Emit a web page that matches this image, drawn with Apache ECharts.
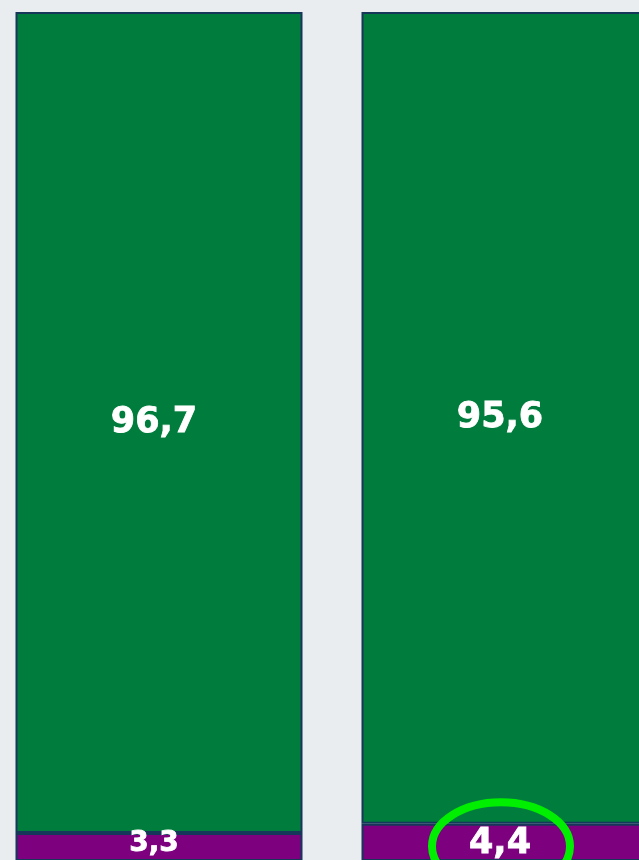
<!DOCTYPE html>
<html>
<head>
<meta charset="utf-8">
<script src="https://cdn.jsdelivr.net/npm/echarts@6/dist/echarts.min.js"></script>
<style>
  html, body { margin: 0; padding: 0; background: #e9edef; }
  #chart { width: 639px; height: 860px; }
</style>
</head>
<body>
<div id="chart"></div>
<script>
// categories + stacked shares (percent)
const categories = ['A', 'B'];
const purpleValues = [3.3, 4.4];
const greenValues = [96.7, 95.6];
const purpleLabelSizes = [28, 35];

const chart = echarts.init(document.getElementById('chart'));

const fmt = (p) => String(p.value).replace('.', ',');

const labelBase = {
  show: true,
  position: 'inside',
  formatter: fmt,
  color: '#fff',
  fontWeight: 'bold',
  fontFamily: 'DejaVu Sans',
  textBorderColor: '#fff',
  textBorderWidth: 0.8,
};

const option = {
  backgroundColor: '#e9edef',
  animation: false,
  grid: { left: -14, top: 12, width: 692, bottom: -1, outerBoundsMode: 'none', containLabel: false },
  xAxis: {
    type: 'category',
    data: categories,
    show: false,
  },
  yAxis: {
    type: 'value',
    min: 0,
    max: 100,
    show: false,
  },
  series: [
    {
      name: 'purple',
      type: 'bar',
      stack: 'total',
      barWidth: 287,
      data: purpleValues.map((v, i) => ({
        value: v,
        label: { fontSize: purpleLabelSizes[i], offset: i === 0 ? [-5, -3] : [-5, 2] },
      })),
      itemStyle: { color: '#7d007f', borderColor: '#17375a', borderWidth: 2 },
      label: labelBase,
    },
    {
      name: 'green',
      type: 'bar',
      stack: 'total',
      barWidth: 287,
      data: greenValues,
      itemStyle: { color: '#007d3d', borderColor: '#17375a', borderWidth: 2 },
      label: Object.assign({}, labelBase, { fontSize: 35, offset: [-5, 0] }),
    },
  ],
};

chart.setOption(option);

// highlight ring around the second purple value
const cx = chart.convertToPixel({ xAxisIndex: 0 }, 1);
const cy = chart.convertToPixel({ yAxisIndex: 0 }, purpleValues[1] / 2);
chart.setOption({
  graphic: [
    {
      type: 'ellipse',
      shape: { cx: cx - 4, cy: cy + 4, rx: 69, ry: 44 },
      style: { fill: 'none', stroke: '#00ee00', lineWidth: 8 },
      z: 100,
    },
  ],
});
</script>
</body>
</html>
